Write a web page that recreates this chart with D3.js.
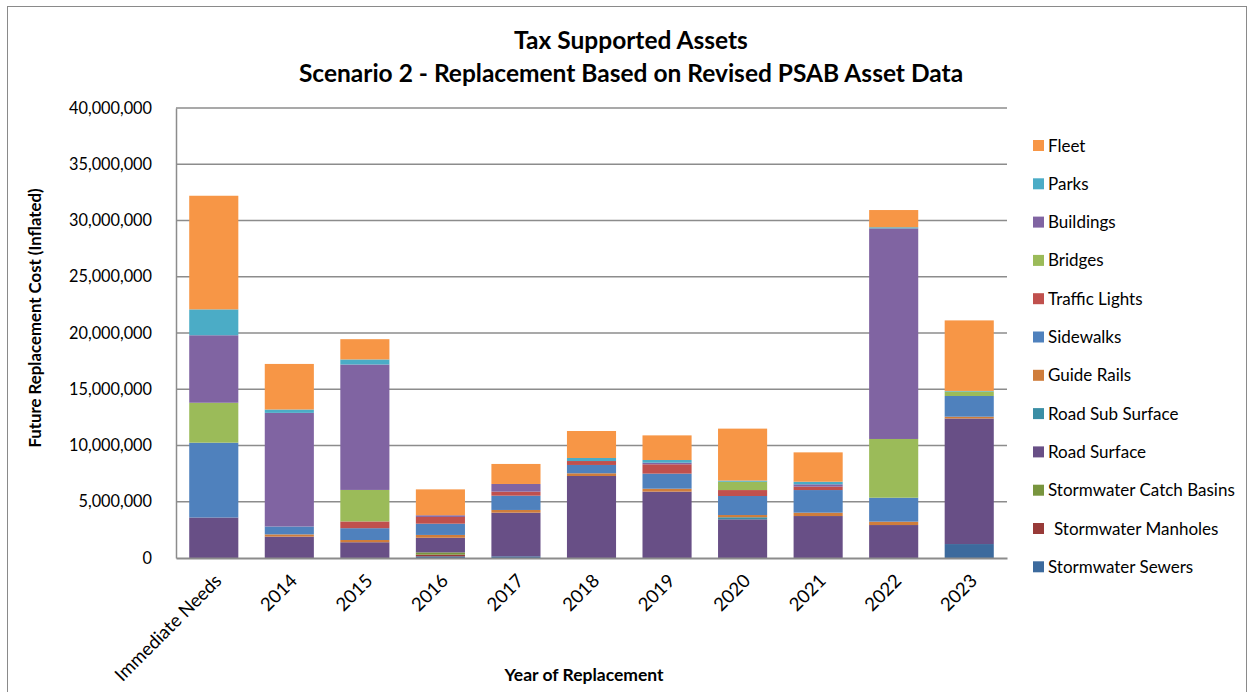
<!DOCTYPE html>
<html>
<head>
<meta charset="utf-8">
<script src="https://cdn.jsdelivr.net/npm/d3@7"></script>
<style>
  body { margin: 0; background: #fff; }
  svg { font-family: Lato, "Open Sans", sans-serif; }
</style>
</head>
<body>
<svg width="1250" height="692"></svg>
<script>
// categories on the x axis
const years = ["Immediate Needs", "2014", "2015", "2016", "2017", "2018", "2019", "2020", "2021", "2022", "2023"];

// series values, millions of dollars (bottom of stack first)
const stormwaterSewers   = [0, 0, 0, 0.15, 0.15, 0, 0, 0, 0, 0, 1.24];
const stormwaterManholes = [0, 0, 0, 0.15, 0, 0, 0, 0, 0, 0, 0];
const catchBasins        = [0, 0, 0, 0.2, 0, 0, 0, 0, 0, 0, 0];
const roadSurface        = [3.6, 1.9, 1.4, 1.3, 3.88, 7.29, 5.9, 3.44, 3.73, 2.93, 11.16];
const roadSubSurface     = [0, 0, 0, 0, 0, 0, 0, 0.18, 0, 0, 0];
const guideRails         = [0, 0.2, 0.2, 0.25, 0.24, 0.24, 0.26, 0.2, 0.3, 0.3, 0.16];
const sidewalks          = [6.65, 0.7, 1.05, 1.0, 1.27, 0.74, 1.34, 1.69, 2.01, 2.13, 1.84];
const trafficLights      = [0, 0, 0.6, 0.6, 0.36, 0.35, 0.83, 0.53, 0.3, 0, 0];
const bridges            = [3.55, 0, 2.8, 0, 0, 0, 0, 0.74, 0, 5.22, 0.4];
const buildings          = [6.0, 10.1, 11.15, 0.15, 0.68, 0, 0.14, 0, 0.21, 18.72, 0];
const parks              = [2.3, 0.3, 0.45, 0, 0, 0.27, 0.24, 0.1, 0.23, 0.1, 0.05];
const fleet              = [10.1, 4.05, 1.8, 2.3, 1.78, 2.4, 2.19, 4.62, 2.61, 1.53, 6.27];

const yTicks = [0, 5e6, 10e6, 15e6, 20e6, 25e6, 30e6, 35e6, 40e6];

const seriesList = [
  {name: "Stormwater Sewers", values: stormwaterSewers, color: "#3c6a9d"},
  {name: "Stormwater Manholes", values: stormwaterManholes, color: "#983a38"},
  {name: "Stormwater Catch Basins", values: catchBasins, color: "#78953e"},
  {name: "Road Surface", values: roadSurface, color: "#684f86"},
  {name: "Road Sub Surface", values: roadSubSurface, color: "#3a8ea5"},
  {name: "Guide Rails", values: guideRails, color: "#cf7d3b"},
  {name: "Sidewalks", values: sidewalks, color: "#4f81bd"},
  {name: "Traffic Lights", values: trafficLights, color: "#c0504d"},
  {name: "Bridges", values: bridges, color: "#9bbb59"},
  {name: "Buildings", values: buildings, color: "#8064a2"},
  {name: "Parks", values: parks, color: "#4bacc6"},
  {name: "Fleet", values: fleet, color: "#f79646"}
];

const svg = d3.select("svg");
const plot = {left: 176, right: 1007, top: 108, bottom: 558};

// outer chart border
svg.append("rect")
  .attr("x", 7.5).attr("y", 6.5)
  .attr("width", 1239).attr("height", 720)
  .attr("fill", "none").attr("stroke", "#8a8a8a").attr("stroke-width", 1);

// build table for the stack
const table = years.map((y, i) => {
  const row = {year: y};
  seriesList.forEach(s => { row[s.name] = s.values[i] * 1e6; });
  return row;
});
const stack = d3.stack().keys(seriesList.map(s => s.name))(table);

const x = d3.scaleBand().domain(years).range([plot.left, plot.right])
  .paddingInner(0.35).paddingOuter(0.175);
const y = d3.scaleLinear().domain([0, 40e6]).range([plot.bottom, plot.top]);

// gridlines
svg.append("g")
  .selectAll("line").data(yTicks.slice(1)).join("line")
  .attr("x1", plot.left).attr("x2", plot.right)
  .attr("y1", d => y(d)).attr("y2", d => y(d))
  .attr("stroke", "#8c8c8c").attr("stroke-width", 1.5);

// y axis
const yAxis = svg.append("g")
  .attr("transform", `translate(${plot.left},0)`)
  .call(d3.axisLeft(y).tickValues(yTicks).tickFormat(d3.format(",")).tickSize(0).tickPadding(24));
yAxis.select(".domain").attr("stroke", "#8c8c8c").attr("stroke-width", 1.5);
yAxis.selectAll("text").attr("font-size", 16.3).attr("fill", "#000").attr("font-family", "Lato");

// bars
const color = d3.scaleOrdinal().domain(seriesList.map(s => s.name)).range(seriesList.map(s => s.color));
svg.append("g").selectAll("g").data(stack).join("g")
  .attr("fill", d => color(d.key))
  .selectAll("rect").data(d => d).join("rect")
  .attr("x", d => x(d.data.year))
  .attr("width", x.bandwidth())
  .attr("y", d => y(d[1]))
  .attr("height", d => y(d[0]) - y(d[1]));

// x axis
const xAxis = svg.append("g")
  .attr("transform", `translate(0,${plot.bottom})`)
  .call(d3.axisBottom(x).tickSize(0).tickSizeOuter(0));
xAxis.select(".domain").attr("stroke", "#8c8c8c").attr("stroke-width", 2);
xAxis.selectAll("text")
  .attr("font-size", 18.5).attr("fill", "#000").attr("font-family", "Lato")
  .attr("text-anchor", "end")
  .attr("dy", 0).attr("y", 0)
  .attr("transform", "translate(9,24) rotate(-45)");

// titles
svg.append("text").attr("x", 631).attr("y", 49).attr("text-anchor", "middle")
  .attr("font-weight", "bold").attr("font-size", 24.5).text("Tax Supported Assets");
svg.append("text").attr("x", 631).attr("y", 82).attr("text-anchor", "middle")
  .attr("font-weight", "bold").attr("font-size", 24.5).text("Scenario 2 - Replacement Based on Revised PSAB Asset Data");

svg.append("text")
  .attr("transform", "translate(41,318) rotate(-90)")
  .attr("text-anchor", "middle").attr("font-weight", "bold").attr("font-size", 16.8)
  .text("Future Replacement Cost (Inflated)");

svg.append("text").attr("x", 584).attr("y", 681).attr("text-anchor", "middle")
  .attr("font-weight", "bold").attr("font-size", 17.5)
  .text("Year of Replacement");

// legend, top to bottom is the reverse of the stack
const legendItems = seriesList.slice().reverse();
const legend = svg.append("g").attr("transform", "translate(1033,140)");
const rows = legend.selectAll("g").data(legendItems).join("g")
  .attr("transform", (d, i) => `translate(0,${i * 38.3})`);
rows.append("rect").attr("width", 11).attr("height", 11).attr("fill", d => d.color);
rows.append("text").attr("x", d => d.name === "Stormwater Manholes" ? 21 : 15).attr("y", 11.5)
  .attr("font-size", 17).text(d => d.name);
</script>
</body>
</html>
